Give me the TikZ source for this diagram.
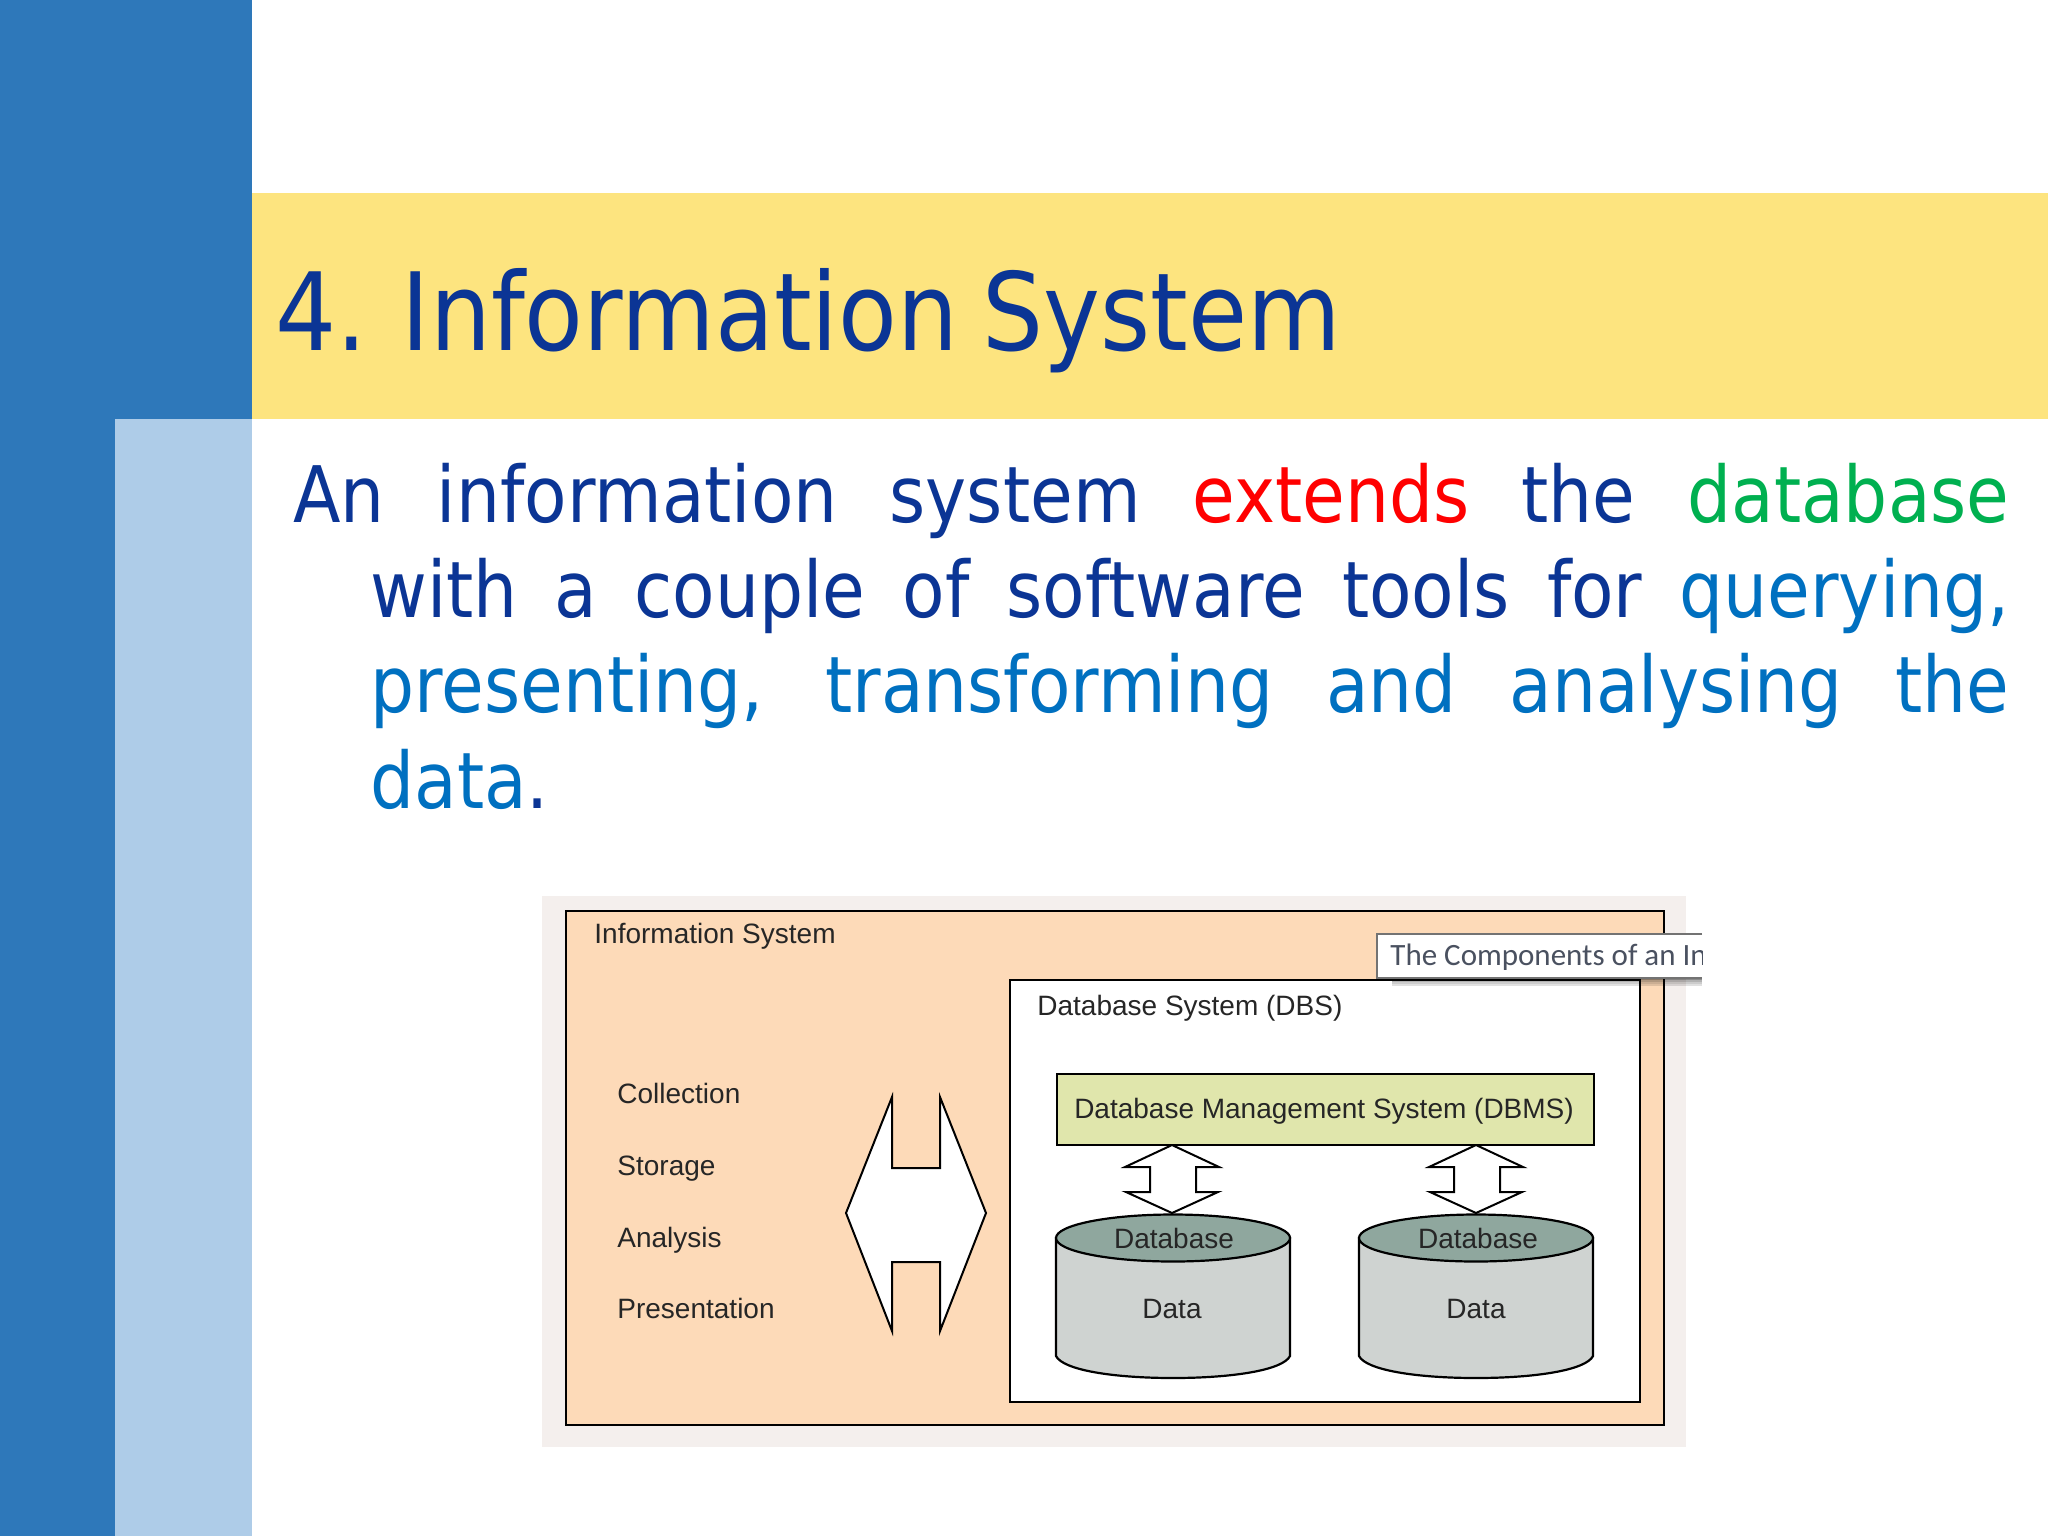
\documentclass[tikz,border=0pt]{standalone}
\usepackage{xcolor}
\usepackage{fontspec}
\setmainfont{Liberation Sans}
\newfontfamily\slidefont[FakeStretch=0.89,WordSpace=0.8]{DejaVu Sans}
\newfontfamily\tipfont{Carlito}
\definecolor{stripblue}{HTML}{2E78BA}
\definecolor{paleblue}{HTML}{AECCE8}
\definecolor{bandyellow}{HTML}{FDE47F}
\definecolor{titleblue}{HTML}{0B3595}
\definecolor{toolblue}{HTML}{0070C0}
\definecolor{dbgreen}{HTML}{00B050}
\definecolor{framepale}{HTML}{F4EFED}
\definecolor{peach}{HTML}{FDDAB8}
\definecolor{dbmsgreen}{HTML}{E0E6AC}
\definecolor{capgrey}{HTML}{8FA79E}
\definecolor{bodygrey}{HTML}{CFD3D1}
\definecolor{tipgrey}{HTML}{4A5160}
\tikzset{
  figtext/.style={anchor=base west,inner sep=0pt,font=\fontsize{14}{16}\selectfont,text=black!85},
  figmid/.style={figtext,anchor=base},
  figbox/.style={draw=black,line width=1.1pt},
  blockarrow/.style={draw=black,fill=white,line width=1pt,line join=miter},
}

\begin{document}
\begin{tikzpicture}[x=0.5pt,y=0.5pt,yscale=-1,xscale=1]
\useasboundingbox (0,0) rectangle (2048,1536);

%Slide background
\fill [white] (0,0) rectangle (2048,1536);
\fill [stripblue] (0,0) rectangle (252,1536);
\fill [paleblue] (115,419) rectangle (252,1536);
\fill [bandyellow] (252,193) rectangle (2048,419);

% Text Node
\draw (275,350) node (slidetitle) [anchor=base west,inner sep=0pt,font=\slidefont\fontsize{54}{60}\selectfont,text=titleblue] {4. Information System};
% Text Node
\draw (293,522) node (slidebody) [anchor=base west,inner sep=0pt,text width=858pt,align=justify,font=\slidefont\fontsize{39}{47.7}\selectfont,text=titleblue] {\hangindent=38.5pt\hangafter=1\tolerance=10000\hbadness=10000
An information system \textcolor{red}{extends} the \textcolor{dbgreen}{database}\linebreak
with a couple of software tools for \textcolor{toolblue}{querying,}\linebreak
\textcolor{toolblue}{presenting, transforming and analysing the}\linebreak
\textcolor{toolblue}{data}.\par};

%Picture frame
\fill [framepale] (542,896) rectangle (1686,1447);
\draw [figbox,fill=peach] (566,911) rectangle (1664,1425);
\draw [figbox,fill=white] (1010,980) rectangle (1640,1402);

%Shape: Double arrow, left
\draw [blockarrow] (892,1097) -- (846,1213) -- (892,1331) -- (892,1262) -- (940,1262) -- (940,1331) -- (986,1213) -- (940,1097) -- (940,1168) -- (892,1168) -- cycle;
%Shape: Double arrows, small
\foreach \ax in {1172,1476} {
  \draw [blockarrow] (\ax,1145) -- (\ax-47,1167) -- (\ax-22,1167) -- (\ax-22,1192) -- (\ax-46,1192) -- (\ax,1213) -- (\ax+46,1192) -- (\ax+24,1192) -- (\ax+24,1167) -- (\ax+47,1167) -- cycle;
}
%Shape: Cylinders
\foreach \cx in {1173,1476} {
  \draw [figbox,fill=bodygrey] (\cx-117,1238) -- (\cx-117,1356) .. controls (\cx-110,1370) and (\cx-60,1378) .. (\cx,1378) .. controls (\cx+60,1378) and (\cx+110,1370) .. (\cx+117,1356) -- (\cx+117,1238) -- cycle;
  \draw [figbox,fill=capgrey] (\cx,1238) ellipse [x radius=117,y radius=23.5];
}
%Shape: DBMS box
\draw [figbox,fill=dbmsgreen] (1057,1074) rectangle (1594,1145);

% Text Node
\draw (594,943) node (infolabel) [figtext] {Information System};
% Text Node
\draw (617,1103) node (collectlabel) [figtext] {Collection};
% Text Node
\draw (617,1175) node (storelabel) [figtext] {Storage};
% Text Node
\draw (617,1247) node (analyselabel) [figtext] {Analysis};
% Text Node
\draw (617,1318) node (presentlabel) [figtext] {Presentation};
% Text Node
\draw (1037,1015) node (dbslabel) [figtext] {Database System (DBS)};
% Text Node
\draw (1324,1118) node (dbmslabel) [figmid] {Database Management System (DBMS)};
% Text Node
\draw (1174,1248) node (dbleft) [figmid] {Database};
% Text Node
\draw (1478,1248) node (dbright) [figmid] {Database};
% Text Node
\draw (1172,1318) node (dataleft) [figmid] {Data};
% Text Node
\draw (1476,1318) node (dataright) [figmid] {Data};

%Tooltip
\foreach \sy/\so in {978/0.45,980/0.3,982/0.2,984/0.12} {
  \fill [black,opacity=\so] (1392,\sy) rectangle (1702,\sy+2);
}
\fill [white] (1377,934) rectangle (1702,978);
\draw [black!55,line width=0.6pt] (1702,934) -- (1377,934) -- (1377,978) -- (1702,978);
\begin{scope}
\clip (1377,934) rectangle (1702,978);
% Text Node
\draw (1390,965) node (tiplabel) [anchor=base west,inner sep=0pt,font=\tipfont\fontsize{15.5}{18}\selectfont,text=tipgrey] {The Components of an Information System};
\end{scope}

\end{tikzpicture}
\end{document}
